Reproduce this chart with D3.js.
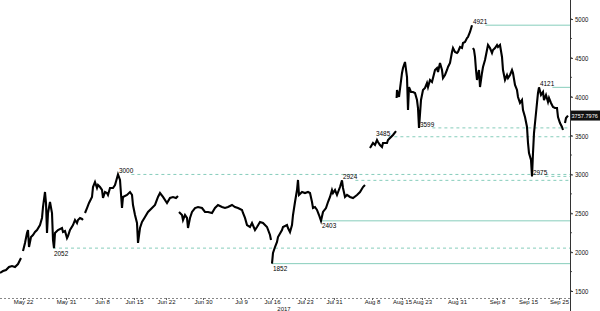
<!DOCTYPE html>
<html>
<head>
<meta charset="utf-8">
<script src="https://cdn.jsdelivr.net/npm/d3@7"></script>
<style>
body { margin: 0; background: #fff; }
text { font-family: "Liberation Sans", Arial, sans-serif; }
</style>
</head>
<body>
<div id="chart"></div>
<script>
// bar index along the session axis, and the close at that bar (null = gap in the feed)
var bars = [0,3,6,9,12,15,18,21,22,
	23,25,27,28,29,31,33,35,37,40,42,43,45,46,47,48,50,52,53,54,55,58,62,63,65,67,68,70,73,75,77,78,80,82,83,84,
	85,87,89,92,93,95,97,98,100,102,103,105,107,108,110,113,115,117,118,120,122,123,127,130,132,133,135,137,138,140,142,145,148,152,155,158,160,163,167,170,173,176,178,178.5,
	179,182,183,185,187,188,190,192,195,198,202,205,208,212,215,218,222,225,228,232,235,238,242,243,245,247,250,252,255,257,260,263,267,270,271,271.5,
	272,273,275,277,278,282,283,287,288,290,292,293,295,297,298,299,302,305,308,310,312,313,315,317,319,321,323,326,328,330,332,333,335,337,340,342,343,345,347,350,353,357,360,363,365,367,
	370,373,375,377,378,380,382,383,387,388,390,393,396,396.3,
	396.6,397,399,402,403,405,407,408,409,411,413,415,417,418,419,421,422,423,425,427,428,430,432,433,435,437,438,440,442,443,445,447,448,450,452,453,455,457,458,460,462,463,465,467,468,470,472,472.5,
	473,474,475,476,477,479,480,482,483,485,487,488,490,492,493,495,497,498,500,502,503,505,507,508,510,512,513,515,517,518,520,522,523,525,527,528,529,531,532,533,534,535,536,537,538,539,541,543,544,546,548,549,551,553,555,557,558,560,562,563,564,
	565,566,568];
var prices = [1732,1757,1770,1809,1822,1809,1847,1925,null,
	2015,2118,2246,2285,2066,2195,2221,2259,2285,2349,2440,2581,2774,2633,2246,2504,2645,2504,2156,2052,2246,2285,2311,2259,2272,2182,2208,2285,2349,2414,2375,2414,2440,2427,2414,null,
	2504,2568,2633,2710,2838,2903,2826,2864,2838,2800,2697,2774,2761,2736,2826,2826,2864,2954,3000,2929,2568,2710,2736,2774,2736,2607,2478,2375,2118,2311,2388,2452,2517,2568,2607,2710,2761,2710,2633,2697,2710,2697,2723,null,
	2517,2478,2414,2478,2440,2311,2440,2517,2568,2581,2568,2517,2517,2504,2568,2607,2581,2568,2581,2607,2581,2568,2543,2504,2440,2349,2324,2375,2285,2324,2388,2375,2324,2221,2156,null,
	1852,1989,2066,2131,2195,2285,2324,2349,2311,2259,2349,2478,2645,2800,2929,2736,2774,2761,2774,2761,2645,2568,2581,2543,2478,2403,2517,2568,2645,2710,2800,2761,2800,2736,2838,2924,2826,2710,2736,2710,2697,2736,2774,2838,2864,null,
	3340,3405,3379,3443,3418,3379,3353,3405,3405,3443,3469,3508,3559,null,
	3984,4087,3997,4306,4370,4447,4254,3829,4125,4061,4061,4048,3958,3855,3599,3958,4023,4087,4113,4177,4125,4216,4190,4241,4344,4370,4318,4434,4344,4241,4280,4344,4383,4434,4576,4627,4576,4563,4576,4640,4627,4692,4705,4756,4769,4833,4921,null,
	4627,4602,4512,4344,4216,4344,4125,4306,4383,4473,4602,4666,4627,4563,4602,4627,4666,4640,4666,4512,4344,4216,4280,4241,4280,4344,4306,4151,4087,3997,3920,3958,3829,3739,3611,3405,3276,3186,2975,3276,3533,3662,3791,3920,4048,4121,4023,4061,3958,4023,3932,3984,3920,3868,3855,3855,3739,3662,3611,3572,null,
	3662,3726,3758];

var tickBars = [23, 66, 102, 134, 166, 203, 241, 272, 305, 334, 372, 402, 422, 457, 497, 528, 559];
var tickLabels = ["May 22", "May 31", "Jun 8", "Jun 15", "Jun 22", "Jun 30", "Jul 9", "Jul 16",
	"Jul 23", "Jul 31", "Aug 8", "Aug 15", "Aug 23", "Aug 31", "Sep 8", "Sep 15", "Sep 25"];
var yearLabel = "2017";
var yearBar = 284;

var levelValues = [1852, 2052, 2403, 2924, 2975, 3000, 3485, 3599, 4121, 4921];
var levelBars = [272, 53, 321, 342, 532, 118, 375, 419, 539, 472];
var dashedLevels = [2052, 2924, 2975, 3000, 3485, 3599];
var lowLevels = [1852, 2052, 2403]; // label sits under the line

var yTicks = [1500, 2000, 2500, 3000, 3500, 4000, 4500, 5000];
var lastPrice = 3757.7976;

var w = 600;
var h = 311;
var plotRight = 570;
var plotBottom = 298;
var squeeze = 0.8; // narrow lettering like the terminal font

var svg = d3.select("#chart").append("svg")
	.attr("width", w)
	.attr("height", h);

var xScale = d3.scaleLinear()
	.domain([0, 570])
	.range([0, plotRight]);

var yScale = d3.scaleLinear()
	.domain([1410, 5245])
	.range([plotBottom, 0]);

var data = bars.map(function(b, i) { return {bar: b, price: prices[i]}; });

function narrow(sel, k) {
	sel.each(function() {
		var len = this.getComputedTextLength();
		d3.select(this)
			.attr("textLength", len * (k || squeeze))
			.attr("lengthAdjust", "spacingAndGlyphs");
	});
}

// support / resistance lines
var levels = levelValues.map(function(v, i) { return {value: v, bar: levelBars[i]}; });
var lineColor = "#86cdbb";

var lvl = svg.append("g").attr("class", "levels");
levels.forEach(function(d) {
	var low = lowLevels.indexOf(d.value) >= 0;
	var dashed = dashedLevels.indexOf(d.value) >= 0;
	var yy = yScale(d.value);
	var x0 = xScale(d.bar);
	var label = lvl.append("text")
		.attr("x", x0 + 1)
		.attr("y", low ? yy + 7.5 : yy - 1)
		.attr("font-size", "8px")
		.attr("fill", "#000")
		.text(String(d.value));
	narrow(label);
	var tw = label.node().getComputedTextLength() * squeeze;
	var start = low ? x0 : x0 + tw + 2;
	lvl.insert("line", "text")
		.attr("x1", start)
		.attr("x2", plotRight)
		.attr("y1", yy)
		.attr("y2", yy)
		.attr("stroke", lineColor)
		.attr("stroke-width", 1)
		.attr("stroke-dasharray", dashed ? "3,3" : null);
});

// price line
var line = d3.line()
	.defined(function(d) { return d.price != null; })
	.x(function(d) { return xScale(d.bar); })
	.y(function(d) { return yScale(d.price); });

svg.append("path")
	.datum(data)
	.attr("d", line)
	.attr("fill", "none")
	.attr("stroke", "#000")
	.attr("stroke-width", 2.1)
	.attr("stroke-linejoin", "miter");

// right axis
var yAxis = d3.axisRight(yScale)
	.tickValues(yTicks)
	.tickSize(3)
	.tickPadding(2)
	.tickFormat(d3.format("d"));

var ya = svg.append("g")
	.attr("transform", "translate(" + plotRight + ",0)")
	.call(yAxis);
ya.select(".domain").remove();
ya.selectAll("text").attr("font-size", "7.5px").attr("fill", "#111")
	.style("font-family", '"Liberation Sans", Arial, sans-serif');
ya.selectAll("line").attr("stroke", "#333");
narrow(ya.selectAll("text"));

// minor ticks
svg.append("g").selectAll("line")
	.data(d3.range(1500, 5250, 250))
	.enter().append("line")
	.attr("x1", plotRight)
	.attr("x2", plotRight + 2)
	.attr("y1", function(d) { return yScale(d); })
	.attr("y2", function(d) { return yScale(d); })
	.attr("stroke", "#555");

svg.append("line")
	.attr("x1", plotRight + 0.5)
	.attr("x2", plotRight + 0.5)
	.attr("y1", 0)
	.attr("y2", h)
	.attr("stroke", "#333")
	.attr("stroke-width", 1);

// last price tag
var tagY = yScale(lastPrice);
svg.append("rect")
	.attr("x", plotRight + 1)
	.attr("y", tagY - 5)
	.attr("width", w - plotRight - 1)
	.attr("height", 10)
	.attr("fill", "#111");
svg.append("text")
	.attr("x", plotRight + 1.5)
	.attr("y", tagY + 2.2)
	.attr("font-size", "5.6px")
	.attr("fill", "#fff")
	.text(String(lastPrice));

// bottom axis
svg.append("line")
	.attr("x1", 0)
	.attr("x2", plotRight)
	.attr("y1", plotBottom + 0.5)
	.attr("y2", plotBottom + 0.5)
	.attr("stroke", "#888")
	.attr("stroke-dasharray", "2,2");

var xAxis = d3.axisBottom(xScale)
	.tickValues(tickBars)
	.tickSize(2)
	.tickPadding(0)
	.tickFormat(function(d, i) { return tickLabels[i]; });

var xa = svg.append("g")
	.attr("transform", "translate(0," + plotBottom + ")")
	.call(xAxis);
xa.select(".domain").remove();
xa.selectAll("line").attr("stroke", "#666");
xa.selectAll("text").attr("font-size", "6px").attr("fill", "#111")
	.style("font-family", '"Liberation Sans", Arial, sans-serif');

svg.append("text")
	.attr("x", xScale(yearBar))
	.attr("y", h - 0.5)
	.attr("text-anchor", "middle")
	.attr("font-size", "6px")
	.attr("fill", "#111")
	.text(yearLabel);
</script>
</body>
</html>
